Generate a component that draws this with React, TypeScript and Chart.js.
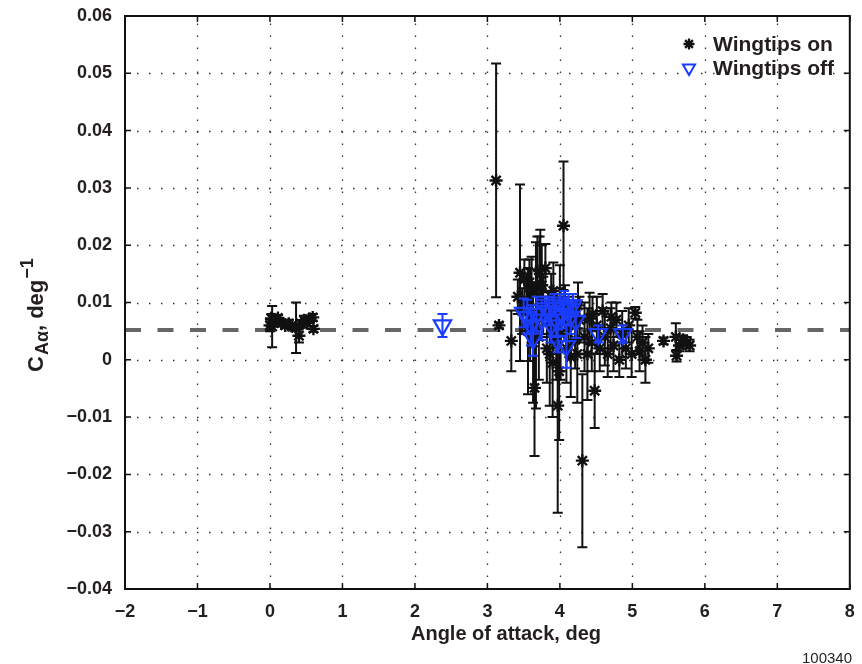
import React, { useEffect, useRef } from 'react';
import { Chart, registerables } from 'chart.js';

Chart.register(...registerables);

// Axis ticks
const xTickValues = [-2, -1, 0, 1, 2, 3, 4, 5, 6, 7, 8];
const yTickValues = [-0.04, -0.03, -0.02, -0.01, 0, 0.01, 0.02, 0.03, 0.04, 0.05, 0.06];

// Wingtips on: angle of attack (deg), C_A-alpha (1/deg), uncertainty (+/-)
const onAlpha = [
  0.0, 0.02, 0.03, 0.07, 0.11, 0.16, 0.21, 0.26, 0.3, 0.36, 0.4, 0.43, 0.47, 0.51, 0.55, 0.59, 0.6,
  3.12, 3.16, 3.33, 3.42, 3.45, 3.48, 3.51, 3.54, 3.56, 3.58, 3.59, 3.61, 3.63, 3.65, 3.67, 3.69, 3.71,
  3.72, 3.73, 3.75, 3.77, 3.8, 3.82, 3.84, 3.86, 3.88, 3.9, 3.91, 3.92, 3.95, 3.97, 3.99, 4.0, 4.01, 4.05, 4.07,
  4.09, 4.12, 4.15, 4.18, 4.21, 4.24, 4.25, 4.27, 4.31, 4.34, 4.38, 4.41, 4.44, 4.45, 4.48, 4.51, 4.55, 4.59,
  4.62, 4.66, 4.7, 4.71, 4.74, 4.78, 4.82, 4.86, 4.91, 4.95, 4.99, 5.04, 5.07, 5.1, 5.14, 5.18, 5.22,
  5.43, 5.6, 5.61, 5.65, 5.7, 5.75, 5.79,
];
const onCA = [
  0.006, 0.0072, 0.0058, 0.0068, 0.0073, 0.0064, 0.006, 0.0063, 0.0059, 0.0056, 0.0042, 0.0063, 0.0069, 0.0064, 0.0071, 0.0074, 0.0054,
  0.0313, 0.006, 0.0033, 0.011, 0.0152, 0.0085, 0.014, 0.01, 0.005, 0.0135, 0.0078, 0.012, 0.003, -0.0049, 0.006, 0.0125, 0.004,
  0.0155, 0.015, 0.013, 0.0095, 0.016, 0.002, 0.008, 0.001, 0.011, -0.0005, 0.012, 0.007, 0.003, -0.008, -0.002, 0.0105, 0.0045, 0.0234, 0.009,
  0.002, 0.006, 0.0005, 0.0085, 0.0035, 0.001, 0.0095, 0.007, -0.0176, 0.004, 0.001, 0.0072, 0.003, 0.008, -0.0054, 0.006, 0.002, 0.0085,
  0.004, 0.001, 0.0055, 0.0075, 0.0025, 0.007, 0.0, 0.0045, 0.002, 0.006, 0.001, 0.0082, 0.004, 0.0015, 0.003, 0.0, 0.002,
  0.0033, 0.004, 0.0007, 0.0025, 0.0035, 0.003, 0.0025,
];
const onErr = [
  0.001, 0.0008, 0.0036, 0.0006, 0.0005, 0.0006, 0.0005, 0.0007, 0.0006, 0.0044, 0.0012, 0.0006, 0.0008, 0.0006, 0.0005, 0.0006, 0.0005,
  0.0204, 0.0005, 0.0053, 0.003, 0.0154, 0.004, 0.0035, 0.005, 0.011, 0.004, 0.008, 0.006, 0.0105, 0.0119, 0.0145, 0.009, 0.0075,
  0.006, 0.0077, 0.007, 0.005, 0.0042, 0.006, 0.004, 0.009, 0.004, 0.0095, 0.005, 0.005, 0.0065, 0.0187, 0.012, 0.006, 0.008, 0.0112, 0.004,
  0.006, 0.005, 0.007, 0.003, 0.005, 0.0085, 0.004, 0.004, 0.0151, 0.006, 0.008, 0.0045, 0.005, 0.003, 0.0065, 0.005, 0.004, 0.003,
  0.005, 0.004, 0.0035, 0.0025, 0.0045, 0.003, 0.003, 0.004, 0.0035, 0.003, 0.004, 0.001, 0.003, 0.0035, 0.003, 0.004, 0.0025,
  0.0006, 0.0024, 0.001, 0.001, 0.0008, 0.001, 0.001,
];

// Wingtips off
const offAlpha = [
  2.38, 3.5, 3.55, 3.6, 3.63, 3.68, 3.75, 3.8, 3.85, 3.88, 3.92, 3.95, 3.97, 4.0, 4.03, 4.06, 4.09,
  4.12, 4.15, 4.18, 4.22, 4.53, 4.87,
];
const offCA = [
  0.006, 0.0082, 0.0075, 0.006, 0.0037, 0.008, 0.007, 0.009, 0.0085, 0.006, 0.0095, 0.007, 0.0033, 0.01, 0.008, 0.009, 0.0024,
  0.0095, 0.0075, 0.0095, 0.0068, 0.0045, 0.0045,
];
const offErr = [
  0.002, 0.0025, 0.003, 0.0035, 0.003, 0.003, 0.0035, 0.002, 0.0025, 0.003, 0.002, 0.003, 0.002, 0.0015, 0.0025, 0.003, 0.0038,
  0.002, 0.003, 0.002, 0.003, 0.0015, 0.0015,
];

// Mean level across all runs
const meanCA = 0.0052;

const seriesLabels = ['Wingtips on', 'Wingtips off'];
const xTitle = 'Angle of attack, deg';
const figureId = '100340';

const FONT = "'Liberation Sans', Arial, Helvetica, sans-serif";
const TEXT = '#231f20';
const BLUE = '#1a3cff';
const BLACK = '#111111';

const fmtX = (v: number) => (v < 0 ? '\u2212' + Math.abs(v) : String(v));
const fmtY = (v: number) => {
  const r = Math.round(v * 100) / 100;
  if (r === 0) return '0';
  return (r < 0 ? '\u2212' : '') + Math.abs(r).toFixed(2);
};

const errorBarPlugin = {
  id: 'errorBars',
  beforeDatasetDraw(chart: any, args: any) {
    const ds = chart.data.datasets[args.index];
    if (!ds.errors) return;
    const { ctx } = chart;
    const xs = chart.scales.x;
    const ys = chart.scales.y;
    ctx.save();
    ctx.strokeStyle = ds.borderColor;
    ctx.lineWidth = 2;
    ctx.lineCap = 'butt';
    ds.data.forEach((p: any, i: number) => {
      const e = ds.errors[i];
      const px = xs.getPixelForValue(p.x);
      const yt = ys.getPixelForValue(p.y + e);
      const yb = ys.getPixelForValue(p.y - e);
      ctx.beginPath();
      ctx.moveTo(px, yt);
      ctx.lineTo(px, yb);
      ctx.moveTo(px - 5, yt);
      ctx.lineTo(px + 5, yt);
      ctx.moveTo(px - 5, yb);
      ctx.lineTo(px + 5, yb);
      ctx.stroke();
    });
    ctx.restore();
  },
};

const framePlugin = {
  id: 'frame',
  beforeDatasetsDraw(chart: any) {
    const { ctx, chartArea: a } = chart;
    const xs = chart.scales.x;
    const ys = chart.scales.y;
    ctx.save();
    ctx.strokeStyle = '#333';
    ctx.lineWidth = 1.3;
    ctx.setLineDash([1.5, 10.5]);
    xTickValues.slice(1, -1).forEach((v) => {
      const px = Math.round(xs.getPixelForValue(v)) + 0.5;
      ctx.beginPath();
      ctx.moveTo(px, a.bottom);
      ctx.lineTo(px, a.top);
      ctx.stroke();
    });
    yTickValues.slice(1, -1).forEach((v) => {
      const py = Math.round(ys.getPixelForValue(v)) + 0.5;
      ctx.beginPath();
      ctx.moveTo(a.left, py);
      ctx.lineTo(a.right, py);
      ctx.stroke();
    });
    ctx.restore();
  },
  afterDatasetsDraw(chart: any) {
    const { ctx, chartArea: a } = chart;
    const xs = chart.scales.x;
    const ys = chart.scales.y;
    ctx.save();
    ctx.strokeStyle = '#111';
    ctx.lineWidth = 2;
    ctx.strokeRect(a.left, a.top, a.right - a.left, a.bottom - a.top);
    ctx.lineWidth = 1.5;
    const t = 6;
    ctx.beginPath();
    xTickValues.forEach((v) => {
      const px = xs.getPixelForValue(v);
      ctx.moveTo(px, a.bottom);
      ctx.lineTo(px, a.bottom - t);
      ctx.moveTo(px, a.top);
      ctx.lineTo(px, a.top + t);
    });
    yTickValues.forEach((v) => {
      const py = ys.getPixelForValue(v);
      ctx.moveTo(a.left, py);
      ctx.lineTo(a.left + t, py);
      ctx.moveTo(a.right, py);
      ctx.lineTo(a.right - t, py);
    });
    ctx.stroke();
    ctx.restore();
  },
  afterDraw(chart: any) {
    const { ctx } = chart;
    ctx.save();
    ctx.fillStyle = TEXT;

    // x-axis title
    ctx.font = `bold 20px ${FONT}`;
    ctx.textAlign = 'center';
    ctx.textBaseline = 'middle';
    ctx.fillText(xTitle, 506, 634);

    // y-axis title with subscript and superscript
    ctx.save();
    ctx.translate(43, 372);
    ctx.rotate(-Math.PI / 2);
    ctx.textAlign = 'left';
    ctx.textBaseline = 'alphabetic';
    let cx = 0;
    ctx.font = `bold 22px ${FONT}`;
    ctx.fillText('C', cx, 0);
    cx += ctx.measureText('C').width + 1;
    ctx.font = `bold 18px ${FONT}`;
    ctx.fillText('A\u03b1', cx, 5);
    cx += ctx.measureText('A\u03b1').width;
    ctx.font = `bold 22px ${FONT}`;
    ctx.fillText(', deg', cx, 0);
    cx += ctx.measureText(', deg').width + 1;
    ctx.font = `bold 18px ${FONT}`;
    ctx.fillText('\u22121', cx, -10);
    ctx.restore();

    // legend
    const lx = 689;
    const rows = [44, 68];
    ctx.strokeStyle = BLACK;
    ctx.lineWidth = 2.3;
    const r = 5.5;
    ctx.beginPath();
    for (let k = 0; k < 4; k++) {
      const ang = (k * Math.PI) / 4;
      ctx.moveTo(lx - Math.cos(ang) * r, rows[0] - Math.sin(ang) * r);
      ctx.lineTo(lx + Math.cos(ang) * r, rows[0] + Math.sin(ang) * r);
    }
    ctx.stroke();
    ctx.strokeStyle = BLUE;
    ctx.lineWidth = 2;
    ctx.beginPath();
    const tr = 7;
    ctx.moveTo(lx, rows[1] + tr);
    ctx.lineTo(lx - tr * 0.866, rows[1] - tr * 0.5);
    ctx.lineTo(lx + tr * 0.866, rows[1] - tr * 0.5);
    ctx.closePath();
    ctx.stroke();
    ctx.fillStyle = TEXT;
    ctx.font = `bold 21px ${FONT}`;
    ctx.textAlign = 'left';
    ctx.textBaseline = 'middle';
    ctx.fillText(seriesLabels[0], 713, rows[0] + 1);
    ctx.fillText(seriesLabels[1], 713, rows[1] + 1);

    // figure number
    ctx.font = `15px ${FONT}`;
    ctx.textAlign = 'right';
    ctx.fillText(figureId, 852, 659);
    ctx.restore();
  },
};

export default function App() {
  const canvasRef = useRef<HTMLCanvasElement | null>(null);

  useEffect(() => {
    const canvas = canvasRef.current;
    if (!canvas) return;
    const chart = new Chart(canvas, {
      type: 'scatter',
      data: {
        datasets: [
          {
            type: 'line',
            label: 'mean',
            data: [
              { x: xTickValues[0], y: meanCA },
              { x: xTickValues[xTickValues.length - 1], y: meanCA },
            ],
            borderColor: '#666666',
            borderWidth: 4,
            borderDash: [16, 16.5],
            pointRadius: 0,
            order: 3,
          } as any,
          {
            label: seriesLabels[0],
            data: onAlpha.map((x, i) => ({ x, y: onCA[i] })),
            errors: onErr,
            pointStyle: 'star',
            pointRadius: 6.5,
            borderWidth: 2.4,
            borderColor: BLACK,
            backgroundColor: BLACK,
            order: 2,
          } as any,
          {
            label: seriesLabels[1],
            data: offAlpha.map((x, i) => ({ x, y: offCA[i] })),
            errors: offErr,
            pointStyle: 'triangle',
            rotation: 180,
            pointRadius: 10,
            borderWidth: 2.2,
            borderColor: BLUE,
            backgroundColor: 'rgba(0,0,0,0)',
            order: 1,
          } as any,
        ],
      },
      options: {
        animation: false,
        responsive: false,
        maintainAspectRatio: false,
        layout: { padding: { top: 16, right: 10, left: 0, bottom: 0 } },
        plugins: {
          legend: { display: false },
          tooltip: { enabled: false },
        },
        scales: {
          x: {
            type: 'linear',
            min: xTickValues[0],
            max: xTickValues[xTickValues.length - 1],
            afterBuildTicks: (s: any) => {
              s.ticks = xTickValues.map((value) => ({ value }));
            },
            afterFit: (s: any) => {
              s.height = 75;
              s.paddingLeft = 0;
              s.paddingRight = 0;
            },
            grid: { display: false, drawTicks: false },
            border: { display: false },
            ticks: {
              padding: 12,
              maxRotation: 0,
              autoSkip: false,
              color: TEXT,
              font: { family: FONT, size: 18, weight: 'bold' },
              callback: (v: any) => fmtX(Number(v)),
            },
          },
          y: {
            type: 'linear',
            min: yTickValues[0],
            max: yTickValues[yTickValues.length - 1],
            afterBuildTicks: (s: any) => {
              s.ticks = yTickValues.map((value) => ({ value }));
            },
            afterFit: (s: any) => {
              s.width = 125;
              s.paddingTop = 0;
              s.paddingBottom = 0;
            },
            grid: { display: false, drawTicks: false },
            border: { display: false },
            ticks: {
              padding: 13,
              autoSkip: false,
              color: TEXT,
              font: { family: FONT, size: 18, weight: 'bold' },
              callback: (v: any) => fmtY(Number(v)),
            },
          },
        },
      },
      plugins: [errorBarPlugin, framePlugin],
    });
    return () => chart.destroy();
  }, []);

  return (
    <div style={{ position: 'fixed', left: 0, top: 0, width: 862, height: 664, background: '#fff' }}>
      <canvas ref={canvasRef} width={862} height={664} style={{ display: 'block' }} />
    </div>
  );
}
